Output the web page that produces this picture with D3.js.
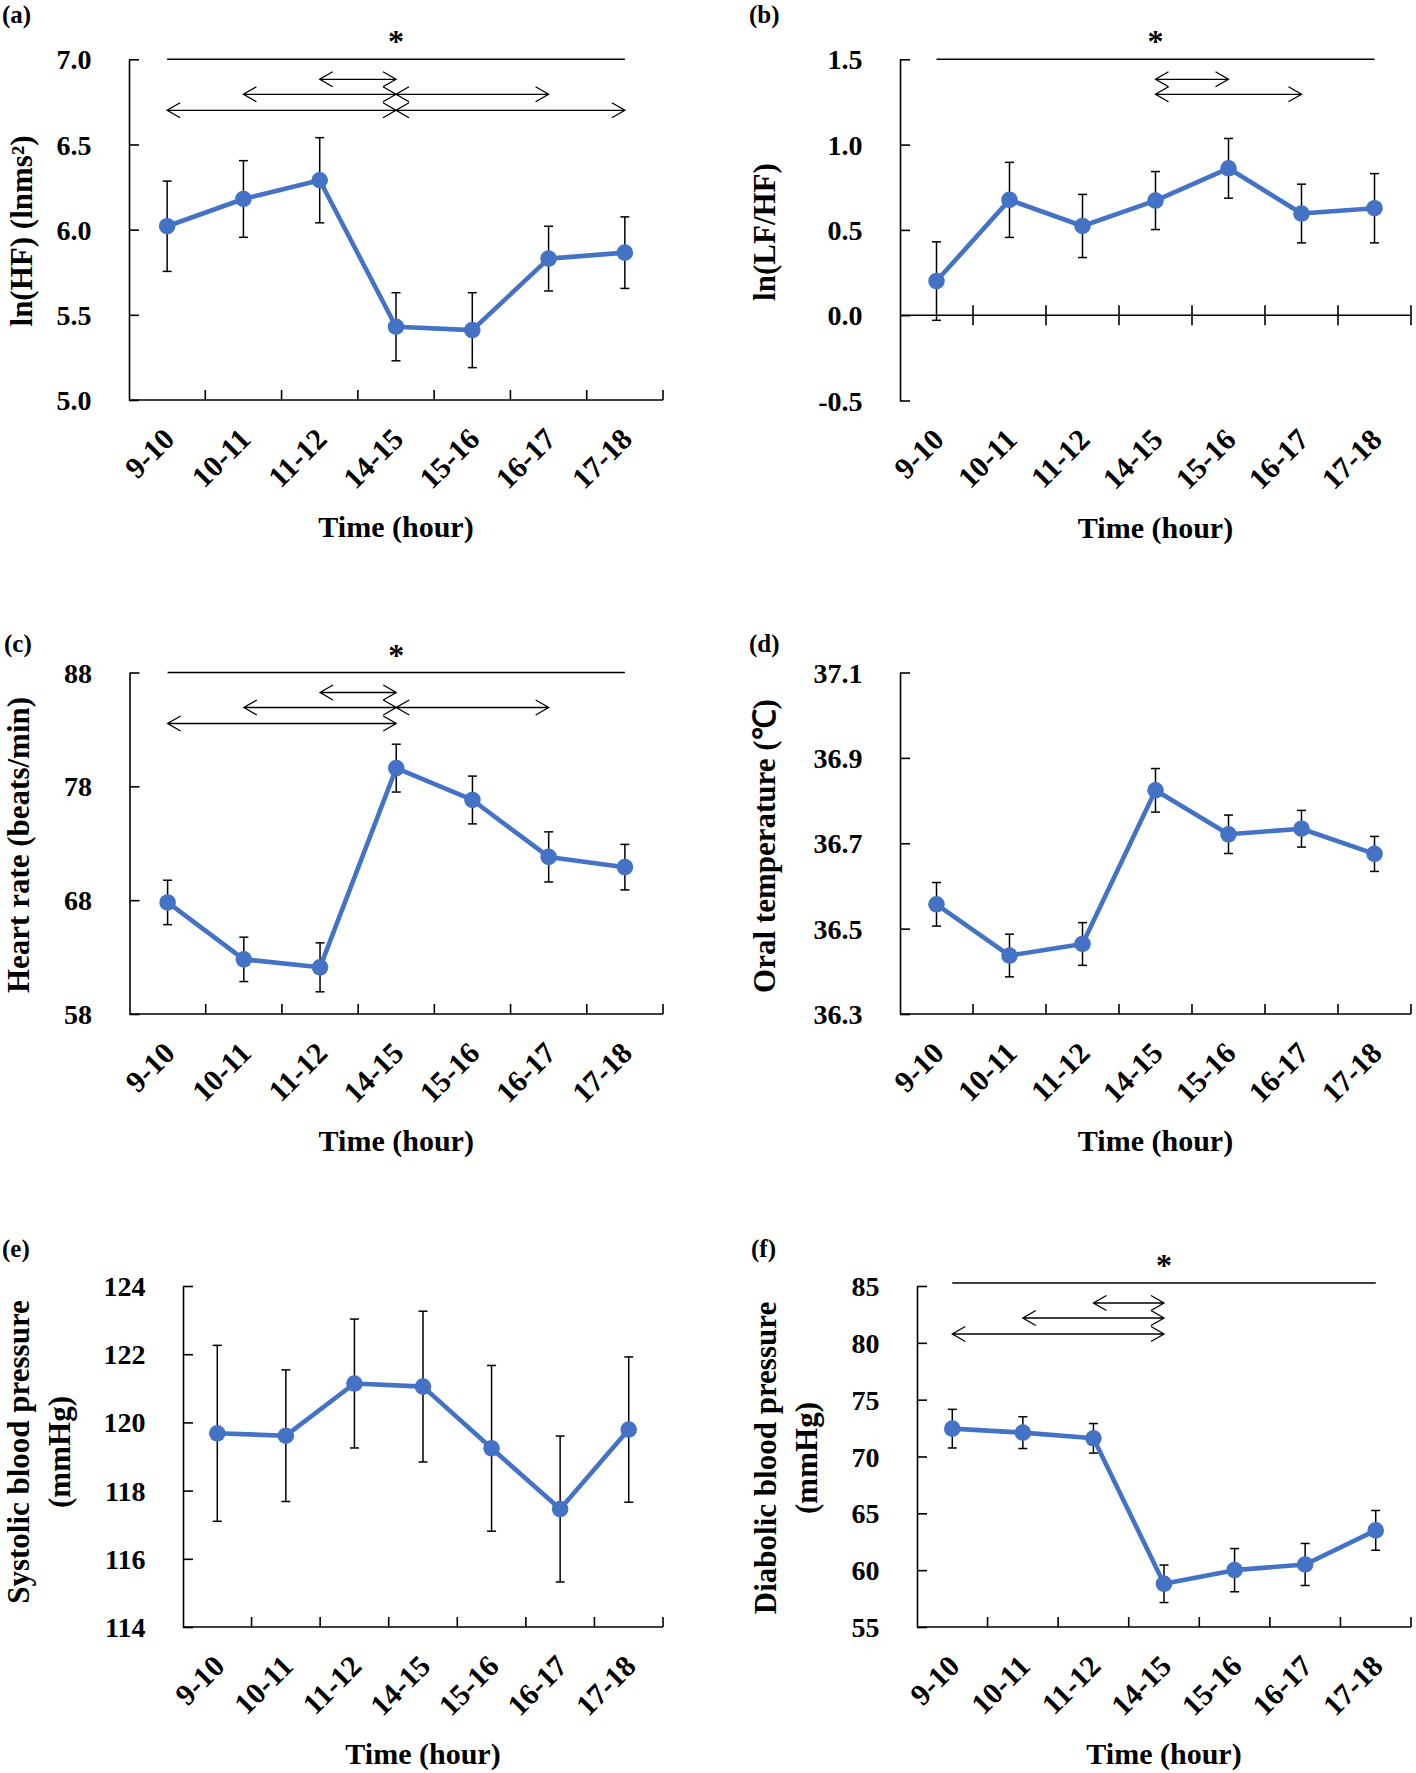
<!DOCTYPE html>
<html><head><meta charset="utf-8">
<script src="https://cdn.jsdelivr.net/npm/d3@7"></script>
<style>
body{margin:0;background:#fff}
svg{display:block}
text{font-family:"Liberation Serif","Times New Roman",serif;font-weight:bold;fill:#000}
</style>
</head><body>
<svg id="chart" width="1416" height="1773"></svg>
<script>
// ---------------- DATA ----------------
const categories = ["9-10","10-11","11-12","14-15","15-16","16-17","17-18"];

const hfMean   = [6.02, 6.18, 6.29, 5.43, 5.41, 5.83, 5.865];
const hfErr    = [0.265, 0.225, 0.25, 0.20, 0.22, 0.19, 0.21];
const hfTicks  = [5.0, 5.5, 6.0, 6.5, 7.0];

const lfhfMean  = [0.20, 0.676, 0.523, 0.672, 0.861, 0.596, 0.627];
const lfhfErr   = [0.23, 0.22, 0.185, 0.17, 0.175, 0.172, 0.203];
const lfhfTicks = [-0.5, 0.0, 0.5, 1.0, 1.5];

const hrMean  = [67.8, 62.8, 62.1, 79.6, 76.8, 71.8, 70.9];
const hrErr   = [1.95, 1.95, 2.15, 2.1, 2.1, 2.2, 2.0];
const hrTicks = [58, 68, 78, 88];

const tempMean  = [36.557, 36.437, 36.464, 36.824, 36.721, 36.734, 36.675];
const tempErr   = [0.051, 0.050, 0.050, 0.051, 0.045, 0.043, 0.041];
const tempTicks = [36.3, 36.5, 36.7, 36.9, 37.1];

const sbpMean  = [119.68, 119.61, 121.14, 121.05, 119.24, 117.46, 119.79];
const sbpErr   = [2.58, 1.93, 1.89, 2.21, 2.43, 2.14, 2.13];
const sbpTicks = [114, 116, 118, 120, 122, 124];

const dbpMean  = [72.45, 72.1, 71.6, 58.8, 60.0, 60.5, 63.5];
const dbpErr   = [1.7, 1.4, 1.3, 1.65, 1.9, 1.85, 1.75];
const dbpTicks = [55, 60, 65, 70, 75, 80, 85];

// significance arrows: rows of [fromIndex, toIndex]
const hfPairs   = [[[2,3]], [[1,3],[3,5]], [[0,3],[3,6]]];
const lfhfPairs = [[[3,4]], [[3,5]]];
const hrPairs   = [[[2,3]], [[1,3],[3,5]], [[0,3]]];
const dbpPairs  = [[[2,3]], [[1,3]], [[0,3]]];

const xTitle = "Time (hour)";

// ---------------- PANELS ----------------
const f1 = v => d3.format(".1f")(v).replace("\u2212","-");
const f0 = v => d3.format("d")(v).replace("\u2212","-");

const panels = [
  {tag:"(a)", mean:hfMean, err:hfErr, ticks:hfTicks, fmt:f1, title:["ln(HF) (lnms²)"], pairs:hfPairs, star:true,
   box:{left:129,right:663,top:59.3,bottom:400}, lab:[2,23], tt:[25,231], sigOff:0},
  {tag:"(b)", mean:lfhfMean, err:lfhfErr, ticks:lfhfTicks, fmt:f1, title:["ln(LF/HF)"], pairs:lfhfPairs, star:true, xAt:0,
   box:{left:900,right:1411,top:59.3,bottom:400.5}, lab:[749,23], tt:[768,232], sigOff:0},
  {tag:"(c)", mean:hrMean, err:hrErr, ticks:hrTicks, fmt:f0, title:["Heart rate (beats/min)"], pairs:hrPairs, star:true,
   box:{left:129.5,right:663,top:672.5,bottom:1014}, lab:[4,652], tt:[22,845], sigOff:0},
  {tag:"(d)", mean:tempMean, err:tempErr, ticks:tempTicks, fmt:f1, title:["Oral temperature (℃)"], pairs:null, star:false,
   box:{left:900,right:1411,top:672.5,bottom:1014}, lab:[749,652], tt:[768,846], sigOff:0},
  {tag:"(e)", mean:sbpMean, err:sbpErr, ticks:sbpTicks, fmt:f0, title:["Systolic blood pressure","(mmHg)"], pairs:null, star:false,
   box:{left:183,right:663,top:1286,bottom:1627}, lab:[2,1257], tt:[22,1452], sigOff:0},
  {tag:"(f)", mean:dbpMean, err:dbpErr, ticks:dbpTicks, fmt:f0, title:["Diabolic blood pressure","(mmHg)"], pairs:dbpPairs, star:true,
   box:{left:917,right:1411,top:1286,bottom:1627}, lab:[751,1257], tt:[769,1458], sigOff:-3}
];

const BLUE = "#4472C4";
const svg = d3.select("#chart");
svg.append("rect").attr("width",1416).attr("height",1773).attr("fill","#fff");

panels.forEach(p => {
  const B = p.box;
  const g = svg.append("g");
  const x = d3.scaleBand().domain(categories).range([B.left, B.right]).padding(0);
  const cx = c => x(c) + x.bandwidth()/2;
  const y = d3.scaleLinear().domain([p.ticks[0], p.ticks[p.ticks.length-1]]).range([B.bottom, B.top]);

  // y axis
  const ya = g.append("g").attr("transform", `translate(${B.left},0)`)
    .call(d3.axisLeft(y).tickValues(p.ticks).tickFormat(p.fmt).tickSize(-10).tickSizeOuter(0).tickPadding(37.5));
  ya.attr("font-family", null).attr("font-size", 28);
  ya.selectAll("text").attr("font-size", 28).attr("dy", "0.34em").attr("fill","#000");
  ya.selectAll("line,path").attr("stroke","#000").attr("stroke-width",1.6);

  // x axis (ticks between categories)
  const xAxisY = (p.xAt !== undefined) ? y(p.xAt) : B.bottom;
  g.append("line").attr("x1",B.left).attr("x2",B.right).attr("y1",xAxisY).attr("y2",xAxisY)
    .attr("stroke","#000").attr("stroke-width",1.6);
  const bounds = d3.range(1, categories.length+1).map(i => x.range()[0] + i*x.step());
  const cross = p.xAt !== undefined;
  g.selectAll(null).data(bounds).join("line")
    .attr("x1",d=>d).attr("x2",d=>d)
    .attr("y1", xAxisY-10).attr("y2", cross ? xAxisY+10 : xAxisY)
    .attr("stroke","#000").attr("stroke-width",1.6);

  // x tick labels
  g.selectAll(null).data(categories).join("text")
    .attr("transform", d => `translate(${cx(d)+9},${B.bottom+41}) rotate(-45)`)
    .attr("text-anchor","end").attr("font-size",30).text(d=>d);

  // x title
  g.append("text").attr("x",(B.left+B.right)/2).attr("y",B.bottom+137)
    .attr("text-anchor","middle").attr("font-size",30).text(xTitle);

  // y title
  const fsT = 31;
  const yt = g.append("text")
    .attr("transform",`translate(${p.tt[0]+0.235*fsT},${p.tt[1]}) rotate(-90)`)
    .attr("text-anchor","middle").attr("font-size",fsT);
  p.title.forEach((t,i) => yt.append("tspan").attr("x",0).attr("dy", i===0?0:41).text(t));

  // panel label
  g.append("text").attr("x",p.lab[0]).attr("y",p.lab[1]).attr("font-size",25).text(p.tag);

  // error bars
  const eb = g.selectAll(null).data(categories).join("g");
  eb.append("line").attr("x1",d=>cx(d)).attr("x2",d=>cx(d))
    .attr("y1",(d,i)=>y(p.mean[i]+p.err[i])).attr("y2",(d,i)=>y(p.mean[i]-p.err[i]))
    .attr("stroke","#000").attr("stroke-width",1.5);
  [1,-1].forEach(s => {
    eb.append("line").attr("x1",d=>cx(d)-4.5).attr("x2",d=>cx(d)+4.5)
      .attr("y1",(d,i)=>y(p.mean[i]+s*p.err[i])).attr("y2",(d,i)=>y(p.mean[i]+s*p.err[i]))
      .attr("stroke","#000").attr("stroke-width",1.5);
  });

  // line
  const line = d3.line().x((d,i)=>cx(categories[i])).y(d=>y(d));
  g.append("path").datum(p.mean).attr("d",line).attr("fill","none")
    .attr("stroke",BLUE).attr("stroke-width",4.6).attr("stroke-linejoin","round");
  g.selectAll(null).data(p.mean).join("circle")
    .attr("cx",(d,i)=>cx(categories[i])).attr("cy",d=>y(d)).attr("r",8.3).attr("fill",BLUE);

  // significance
  if (p.star) {
    const sy = B.top + p.sigOff;
    const x0 = cx(categories[0]), x1 = cx(categories[categories.length-1]);
    g.append("line").attr("x1",x0).attr("x2",x1).attr("y1",sy).attr("y2",sy)
      .attr("stroke","#000").attr("stroke-width",1.5);
    g.append("text").attr("x",(x0+x1)/2).attr("y",sy-7).attr("text-anchor","middle")
      .attr("font-size",32).text("*");
    const rowOff = [20,35,51];
    p.pairs.forEach((row,ri) => {
      const ry = sy + rowOff[ri];
      row.forEach(([a,b]) => {
        const xa = cx(categories[a]), xb = cx(categories[b]);
        g.append("path")
          .attr("d",`M${xa},${ry}H${xb}M${xa+13},${ry-7.5}L${xa},${ry}L${xa+13},${ry+7.5}M${xb-13},${ry-7.5}L${xb},${ry}L${xb-13},${ry+7.5}`)
          .attr("fill","none").attr("stroke","#000").attr("stroke-width",1.3);
      });
    });
  }
});
</script>
</body></html>
